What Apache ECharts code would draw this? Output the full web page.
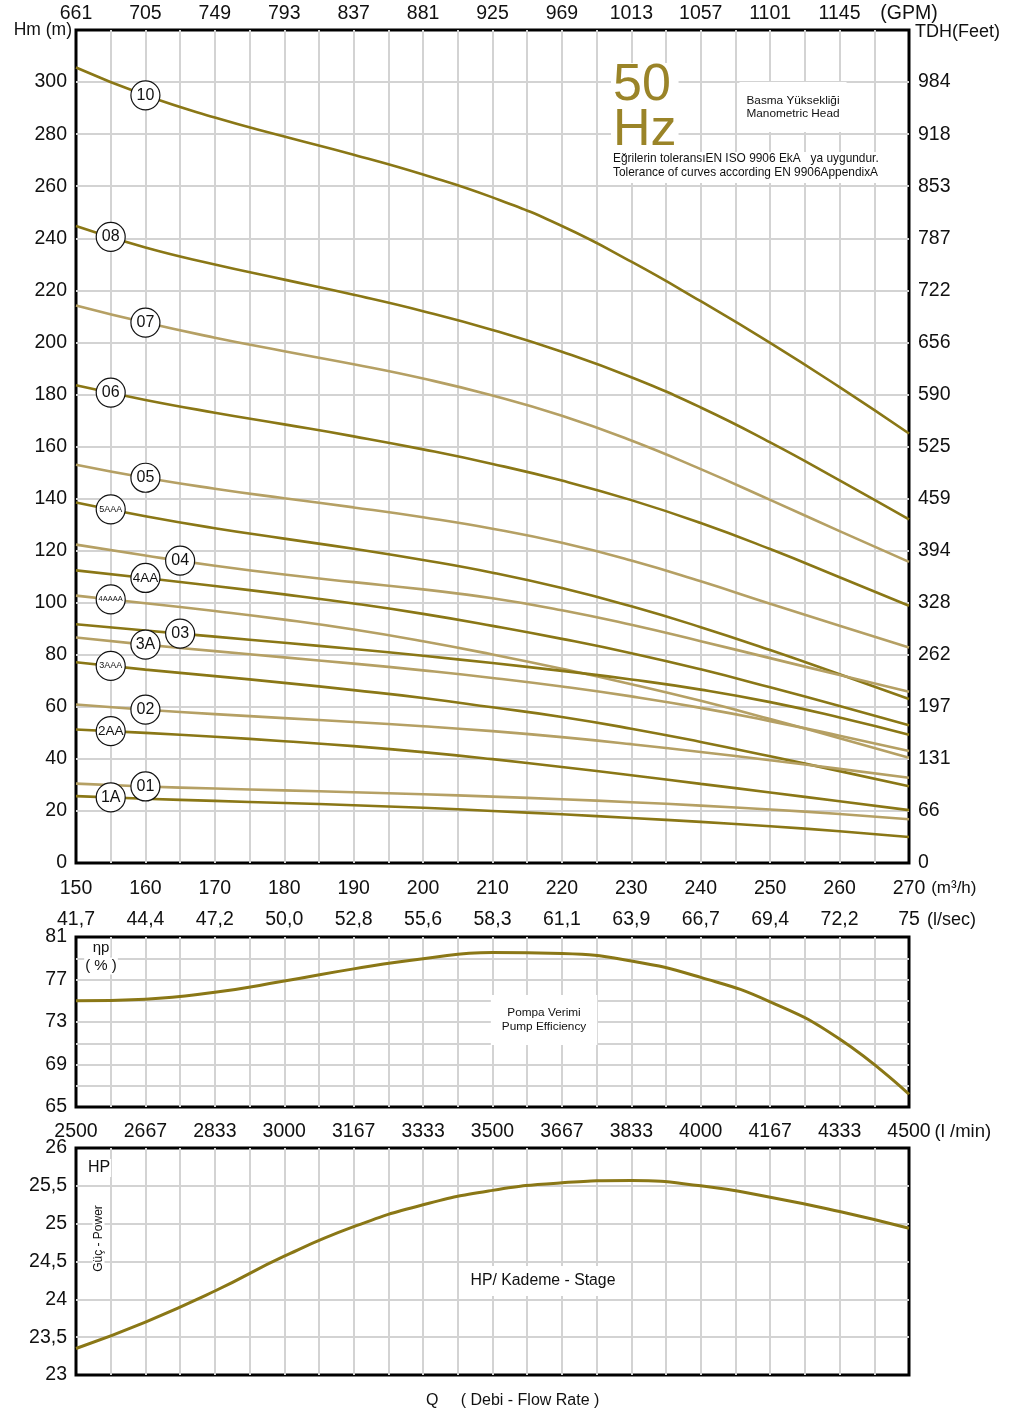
<!DOCTYPE html>
<html>
<head>
<meta charset="utf-8">
<script src="https://cdn.jsdelivr.net/npm/echarts@6/dist/echarts.min.js"></script>
<style>
html,body{margin:0;padding:0;background:#fff;}
#chart{width:1010px;height:1414px;}
</style>
</head>
<body>
<div id="chart"></div>
<script>
// ---------- data ----------
var flow = [150,160,170,180,190,200,210,220,230,240,250,260,270]; // m3/h

var m3hLabels  = ['150','160','170','180','190','200','210','220','230','240','250','260','270'];
var gpmLabels  = ['661','705','749','793','837','881','925','969','1013','1057','1101','1145','(GPM)'];
var lsecLabels = ['41,7','44,4','47,2','50,0','52,8','55,6','58,3','61,1','63,9','66,7','69,4','72,2','75'];
var lminLabels = ['2500','2667','2833','3000','3167','3333','3500','3667','3833','4000','4167','4333','4500'];
var feetLabels = ['0','66','131','197','262','328','394','459','525','590','656','722','787','853','918','984'];

var h10    = [305.6,294.9,286.4,279.1,272.1,264.5,255.7,244.7,231.0,215.8,199.8,182.8,165.0];
var h08    = [244.7,236.4,229.9,224.1,218.3,212.0,204.8,196.4,186.6,175.0,161.6,147.0,132.0];
var h07    = [214.2,207.6,201.8,196.6,191.6,186.1,179.6,171.8,162.3,151.3,139.5,127.5,115.7];
var h06    = [183.5,177.9,173.0,168.5,163.9,158.9,153.3,146.9,139.4,130.6,120.6,109.8,98.8];
var h05    = [153.0,148.0,143.8,140.1,136.6,132.8,128.4,123.0,116.2,108.2,99.6,91.1,82.8];
var h5AAA  = [138.5,133.2,128.6,124.6,120.7,116.4,111.5,105.6,98.6,90.6,81.8,72.5,63.0];
var h04    = [122.3,118.1,114.2,110.8,107.9,105.1,101.7,97.1,91.5,85.2,78.7,72.2,65.8];
var h4AA   = [112.4,109.5,106.4,103.2,99.7,95.7,91.1,86.1,80.6,74.4,67.5,60.3,52.9];
var h4AAAA = [102.7,99.8,96.8,93.5,89.7,85.2,80.1,74.6,68.7,62.3,55.3,47.9,40.4];
var h03    = [91.7,89.3,86.95,84.6,82.2,79.6,76.8,73.8,70.5,66.6,61.8,55.9,49.3];
var h3A    = [86.6,83.9,81.4,79.0,76.6,74.0,71.1,67.8,64.0,59.6,54.5,48.9,43.0];
var h3AAA  = [77.1,74.3,71.8,69.2,66.4,63.4,59.8,56.1,51.6,46.5,41.0,35.3,29.5];
var h02    = [60.9,58.9,57.2,55.65,54.15,52.55,50.65,48.35,45.65,42.65,39.45,36.15,32.75];
var h2AA   = [51.3,50.0,48.5,46.8,44.9,42.6,39.9,36.9,33.7,30.4,27.1,23.7,20.3];
var h01    = [30.5,29.4,28.6,27.9,27.2,26.4,25.5,24.5,23.35,22.05,20.55,18.8,16.8];
var h1A    = [25.7,24.7,23.85,23.05,22.2,21.2,20.0,18.7,17.3,15.8,14.1,12.2,10.0];

var efficiency = [75.0,75.15,75.8,76.85,78.0,78.95,79.55,79.45,78.75,77.2,74.9,71.4,66.2];
var power      = [23.35,23.70,24.11,24.57,24.96,25.25,25.44,25.54,25.57,25.50,25.35,25.16,24.94];

var curveNames  = ['10','08','07','06','05','5AAA','04','4AA','4AAAA','03','3A','3AAA','02','2AA','01','1A'];
var curveData   = [h10,h08,h07,h06,h05,h5AAA,h04,h4AA,h4AAAA,h03,h3A,h3AAA,h02,h2AA,h01,h1A];
var curveTone   = ['d','d','l','d','l','d','l','d','l','d','l','d','l','d','l','d'];
var curveLabelQ = [160,155,160,155,160,155,165,160,155,165,160,155,160,155,160,155];

// ---------- styles ----------
var DARK = '#8a7716', LIGHT = '#b5a064', GRIDC = '#d3d3d3';
var FONT = 'Liberation Sans, Arial, sans-serif';
var LBL = 19.5;

function valueAt(arr, q){
  var p = (q - flow[0]) / (flow[1] - flow[0]);
  var i = Math.floor(p), t = p - i;
  if (i >= arr.length - 1) return arr[arr.length - 1];
  return arr[i] * (1 - t) + arr[i + 1] * t;
}
function idx(v){ return Math.round((v - 150) / 10); }
function tenOnly(list){
  return function(v){ return (Math.round(v) % 10 === 0) ? list[idx(v)] : ''; };
}
function circleFont(n){ return n.length <= 2 ? 16 : (n.length === 3 ? 13.5 : (n.length === 4 ? 9 : 7.5)); }

var split = {show:true, lineStyle:{color:GRIDC, width:2}, showMinLine:false, showMaxLine:false};
var noLine = {show:false};
var baseX = {type:'value', min:150, max:270, interval:5, axisLine:noLine, axisTick:noLine};

var series = [];
curveNames.forEach(function(n, k){
  var d = curveData[k];
  var q = curveLabelQ[k];
  series.push({
    name: n, type:'line', xAxisIndex:0, yAxisIndex:0, smooth:0.5, symbol:'none',
    lineStyle:{color: curveTone[k]==='d' ? DARK : LIGHT, width:2.6},
    data: flow.map(function(f, i){ return [f, d[i]]; }),
    markPoint:{
      z: 10, silent:true, animation:false,
      symbol:'circle', symbolSize:29,
      itemStyle:{color:'#fff', borderColor:'#111', borderWidth:1.2},
      label:{show:true, formatter:n, color:'#111', fontFamily:FONT, fontSize:circleFont(n)},
      data:[{coord:[q, valueAt(d, q)]}]
    }
  });
});
series.push({
  name:'eff', type:'line', xAxisIndex:2, yAxisIndex:2, smooth:0.5, symbol:'none',
  lineStyle:{color:DARK, width:3},
  data: flow.map(function(f, i){ return [f, efficiency[i]]; })
});
series.push({
  name:'hp', type:'line', xAxisIndex:3, yAxisIndex:3, smooth:0.5, symbol:'none',
  lineStyle:{color:DARK, width:3},
  data: flow.map(function(f, i){ return [f, power[i]]; })
});

var chart = echarts.init(document.getElementById('chart'), null, {renderer:'canvas'});
var txt = {color:'#111', fontFamily:FONT};

chart.setOption({
  animation:false,
  backgroundColor:'#fff',
  textStyle:{fontFamily:FONT},
  grid:[
    {left:76, right:101, top:30, height:833, show:true, borderColor:'#000', borderWidth:3, backgroundColor:'#fff'},
    {left:76, right:101, top:937, height:170, show:true, borderColor:'#000', borderWidth:3, backgroundColor:'#fff'},
    {left:76, right:101, top:1148, height:227, show:true, borderColor:'#000', borderWidth:3, backgroundColor:'#fff'}
  ],
  xAxis:[
    Object.assign({}, baseX, {gridIndex:0, position:'bottom', splitLine:split,
      axisLabel:Object.assign({fontSize:LBL, margin:16, formatter:tenOnly(m3hLabels)}, txt),
      name:'(m³/h)', nameLocation:'end', nameGap:19,
      nameTextStyle:Object.assign({fontSize:17, verticalAlign:'top', padding:[17,0,0,0]}, txt)}),
    Object.assign({}, baseX, {gridIndex:0, position:'top', splitLine:noLine,
      axisLabel:Object.assign({fontSize:LBL, margin:6, formatter:tenOnly(gpmLabels)}, txt)}),
    Object.assign({}, baseX, {gridIndex:1, position:'top', splitLine:split,
      axisLabel:Object.assign({fontSize:LBL, margin:7, formatter:tenOnly(lsecLabels)}, txt),
      name:'(l/sec)', nameLocation:'end', nameGap:18,
      nameTextStyle:Object.assign({fontSize:18, verticalAlign:'bottom', padding:[0,0,8,0]}, txt)}),
    Object.assign({}, baseX, {gridIndex:2, position:'top', splitLine:split,
      axisLabel:Object.assign({fontSize:LBL, margin:6, formatter:tenOnly(lminLabels)}, txt),
      name:'(l /min)', nameLocation:'end', nameGap:19,
      nameTextStyle:Object.assign({fontSize:18.5, verticalAlign:'bottom', padding:[0,0,7,0]}, txt)})
  ],
  yAxis:[
    {type:'value', gridIndex:0, position:'left', min:0, max:320, interval:20,
      axisLine:noLine, axisTick:noLine, splitLine:split,
      axisLabel:Object.assign({fontSize:LBL, margin:9,
        formatter:function(v){ return v === 320 ? '{n|Hm (m)}' : String(v); },
        rich:{n:{fontSize:17.5, color:'#111', fontFamily:FONT, padding:[0,-5,0,0]}}}, txt)},
    {type:'value', gridIndex:0, position:'right', min:0, max:320, interval:20,
      axisLine:noLine, axisTick:noLine, splitLine:noLine,
      axisLabel:Object.assign({fontSize:LBL, margin:9,
        formatter:function(v){ return v === 320 ? '{n|TDH(Feet)}' : feetLabels[Math.round(v/20)]; },
        rich:{n:{fontSize:18, color:'#111', fontFamily:FONT, padding:[4,0,0,-3]}}}, txt)},
    {type:'value', gridIndex:1, position:'left', min:65, max:81, interval:2,
      axisLine:noLine, axisTick:noLine, splitLine:split,
      axisLabel:Object.assign({fontSize:LBL, margin:9,
        formatter:function(v){ return ((v - 65) % 4 === 0) ? String(v) : ''; }}, txt)},
    {type:'value', gridIndex:2, position:'left', min:23, max:26, interval:0.5,
      axisLine:noLine, axisTick:noLine, splitLine:split,
      axisLabel:Object.assign({fontSize:LBL, margin:9,
        formatter:function(v){ return String(v).replace('.', ','); }}, txt)}
  ],
  series: series,
  graphic:[
    {type:'text', x:611, y:63, z:20, style:{text:'50\nHz', fill:'#9a8428', font:'52px ' + FONT,
      lineHeight:45, align:'left', verticalAlign:'top', backgroundColor:'#fff', padding:[0,2,0,2]}},
    {type:'text', x:611, y:152, z:20, style:{text:'Eğrilerin toleransıEN ISO 9906 EkA   ya uygundur.\nTolerance of curves according EN 9906AppendixA',
      fill:'#111', font:'11.9px ' + FONT, lineHeight:14, align:'left', verticalAlign:'top',
      backgroundColor:'#fff', padding:[0,4,3,2]}},
    {type:'text', x:793, y:107, z:20, style:{text:'Basma Yüksekliği\nManometric Head', fill:'#111',
      font:'11.8px ' + FONT, lineHeight:13.5, align:'center', verticalAlign:'middle',
      backgroundColor:'#fff', padding:[12,7,11,7]}},
    {type:'text', x:544, y:1020, z:20, style:{text:'Pompa Verimi\nPump Efficiency', fill:'#111',
      font:'11.8px ' + FONT, lineHeight:14, align:'center', verticalAlign:'middle',
      backgroundColor:'#fff', padding:[11,11,11,11]}},
    {type:'text', x:101, y:948, z:20, style:{text:'ηp', fill:'#111', font:'15px ' + FONT,
      align:'center', verticalAlign:'middle', backgroundColor:'#fff', padding:[1,1,1,1]}},
    {type:'text', x:101, y:966, z:20, style:{text:'( % )', fill:'#111', font:'15px ' + FONT,
      align:'center', verticalAlign:'middle', backgroundColor:'#fff', padding:[1,1,1,1]}},
    {type:'text', x:543, y:1281, z:20, style:{text:'HP/ Kademe - Stage', fill:'#111', font:'15.8px ' + FONT,
      align:'center', verticalAlign:'middle', backgroundColor:'#fff', padding:[7,6,7,6]}},
    {type:'text', x:99, y:1168, z:20, style:{text:'HP', fill:'#111', font:'16px ' + FONT,
      align:'center', verticalAlign:'middle', backgroundColor:'#fff', padding:[1,1,1,1]}},
    {type:'text', x:98.5, y:1238.5, rotation:Math.PI/2, z:20, style:{text:'Güç - Power', fill:'#111',
      font:'12px ' + FONT, align:'center', verticalAlign:'middle', backgroundColor:'#fff', padding:[0,1,0,1]}},
    {type:'text', x:426, y:1401, z:20, style:{text:'Q     ( Debi - Flow Rate )', fill:'#111',
      font:'16px ' + FONT, align:'left', verticalAlign:'middle'}}
  ]
});
</script>
</body>
</html>
